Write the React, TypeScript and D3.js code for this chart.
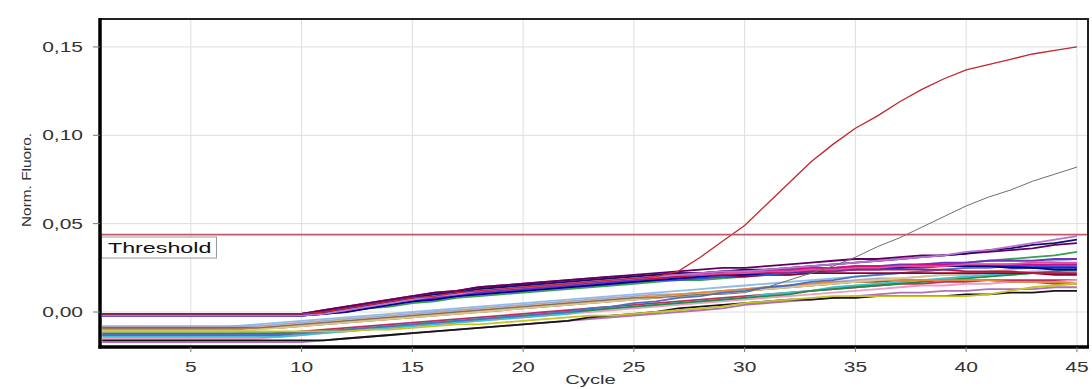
import React from "react";
import * as d3 from "d3";

// ---- data ----
const cycles = [1,2,3,4,5,6,7,8,9,10,11,12,13,14,15,16,17,18,19,20,21,22,23,24,25,26,27,28,29,30,31,32,33,34,35,36,37,38,39,40,41,42,43,44,45];
const xTicks = [5, 10, 15, 20, 25, 30, 35, 40, 45];
const yTicks = [0, 0.05, 0.1, 0.15];
const yTickLabels = ["0,00", "0,05", "0,10", "0,15"];
const thresholdValue = 0.0438;

// upper group (baseline ~0)
const wellA1 = [-0.001,-0.001,-0.001,-0.001,-0.001,-0.001,-0.001,-0.001,-0.001,-0.001,0.000,0.002,0.004,0.006,0.008,0.010,0.011,0.013,0.014,0.015,0.016,0.017,0.018,0.019,0.020,0.021,0.022,0.022,0.023,0.024,0.024,0.025,0.026,0.027,0.028,0.029,0.030,0.031,0.032,0.033,0.035,0.036,0.038,0.039,0.041];
const wellA2 = [-0.002,-0.002,-0.002,-0.002,-0.002,-0.002,-0.002,-0.002,-0.002,-0.002,-0.001,0.001,0.003,0.005,0.007,0.009,0.010,0.012,0.013,0.014,0.015,0.016,0.017,0.018,0.019,0.020,0.021,0.022,0.023,0.023,0.024,0.025,0.026,0.027,0.028,0.029,0.030,0.031,0.032,0.034,0.035,0.037,0.039,0.041,0.043];
const wellA3 = [-0.001,-0.001,-0.001,-0.001,-0.001,-0.001,-0.001,-0.001,-0.001,-0.001,0.001,0.003,0.005,0.007,0.009,0.011,0.012,0.014,0.015,0.016,0.017,0.018,0.019,0.020,0.021,0.022,0.023,0.024,0.025,0.025,0.026,0.027,0.028,0.029,0.030,0.030,0.031,0.032,0.032,0.033,0.034,0.035,0.036,0.038,0.039];
const wellA4 = [-0.001,-0.001,-0.001,-0.001,-0.001,-0.001,-0.001,-0.001,-0.001,-0.001,0.001,0.003,0.005,0.007,0.009,0.011,0.012,0.014,0.015,0.016,0.017,0.018,0.019,0.020,0.020,0.021,0.022,0.022,0.023,0.023,0.024,0.024,0.025,0.025,0.026,0.026,0.026,0.027,0.027,0.027,0.027,0.027,0.027,0.027,0.027];
const wellA5 = [-0.002,-0.002,-0.002,-0.002,-0.002,-0.002,-0.002,-0.002,-0.002,-0.002,-0.001,0.001,0.003,0.005,0.006,0.008,0.009,0.011,0.012,0.013,0.014,0.015,0.016,0.017,0.018,0.019,0.020,0.021,0.021,0.022,0.023,0.023,0.024,0.024,0.025,0.025,0.025,0.026,0.026,0.026,0.026,0.026,0.025,0.025,0.025];
const wellA6 = [-0.001,-0.001,-0.001,-0.001,-0.001,-0.001,-0.001,-0.001,-0.001,-0.001,0.000,0.002,0.004,0.006,0.008,0.010,0.011,0.012,0.013,0.014,0.015,0.016,0.017,0.018,0.019,0.019,0.020,0.021,0.021,0.022,0.022,0.023,0.023,0.024,0.024,0.024,0.024,0.024,0.024,0.023,0.023,0.023,0.022,0.022,0.022];
const wellA7 = [-0.002,-0.002,-0.002,-0.002,-0.002,-0.002,-0.002,-0.002,-0.002,-0.002,-0.001,0.000,0.002,0.004,0.006,0.007,0.009,0.010,0.011,0.012,0.013,0.014,0.015,0.016,0.017,0.018,0.019,0.020,0.021,0.021,0.022,0.023,0.023,0.024,0.025,0.025,0.026,0.026,0.026,0.026,0.026,0.025,0.025,0.024,0.024];
const wellA8 = [-0.001,-0.001,-0.001,-0.001,-0.001,-0.001,-0.001,-0.001,-0.001,-0.001,0.000,0.001,0.003,0.005,0.007,0.008,0.010,0.011,0.012,0.013,0.014,0.015,0.016,0.017,0.018,0.019,0.020,0.021,0.022,0.022,0.023,0.024,0.024,0.025,0.026,0.026,0.027,0.027,0.028,0.028,0.029,0.029,0.029,0.030,0.030];
const wellA9 = [-0.001,-0.001,-0.001,-0.001,-0.001,-0.001,-0.001,-0.001,-0.001,-0.001,0.000,0.002,0.003,0.005,0.007,0.008,0.009,0.011,0.012,0.013,0.014,0.015,0.016,0.017,0.017,0.018,0.019,0.019,0.020,0.020,0.021,0.021,0.022,0.022,0.022,0.022,0.022,0.022,0.022,0.022,0.022,0.022,0.022,0.021,0.021];
const wellA10 = [-0.001,-0.001,-0.001,-0.001,-0.001,-0.001,-0.001,-0.001,-0.001,-0.001,0.001,0.003,0.005,0.007,0.009,0.010,0.012,0.013,0.014,0.015,0.016,0.017,0.018,0.019,0.020,0.020,0.021,0.021,0.022,0.022,0.023,0.023,0.024,0.024,0.025,0.025,0.026,0.026,0.026,0.027,0.027,0.027,0.028,0.028,0.028];
const wellA11 = [-0.002,-0.002,-0.002,-0.002,-0.002,-0.002,-0.002,-0.002,-0.002,-0.002,-0.001,0.001,0.002,0.004,0.006,0.007,0.009,0.010,0.011,0.012,0.013,0.014,0.015,0.016,0.017,0.018,0.018,0.019,0.020,0.021,0.021,0.022,0.023,0.023,0.024,0.024,0.025,0.025,0.026,0.026,0.026,0.026,0.026,0.026,0.026];
const wellA12 = [-0.002,-0.002,-0.002,-0.002,-0.002,-0.002,-0.002,-0.002,-0.002,-0.002,-0.001,0.000,0.002,0.003,0.005,0.006,0.008,0.009,0.010,0.011,0.012,0.013,0.014,0.015,0.016,0.017,0.018,0.018,0.019,0.020,0.021,0.021,0.022,0.023,0.024,0.025,0.025,0.026,0.027,0.028,0.029,0.030,0.031,0.032,0.034];

// lower group (baseline below 0)
const wellB1 = [-0.009,-0.009,-0.009,-0.009,-0.009,-0.009,-0.008,-0.007,-0.006,-0.005,-0.004,-0.003,-0.002,-0.001,0.000,0.001,0.002,0.003,0.004,0.005,0.006,0.007,0.008,0.009,0.010,0.011,0.012,0.013,0.014,0.015,0.016,0.017,0.018,0.019,0.020,0.021,0.022,0.023,0.024,0.025,0.026,0.027,0.028,0.029,0.030];
const wellB2 = [-0.009,-0.009,-0.009,-0.009,-0.009,-0.009,-0.009,-0.009,-0.009,-0.008,-0.007,-0.006,-0.005,-0.004,-0.003,-0.002,-0.001,0.000,0.001,0.002,0.003,0.004,0.005,0.006,0.007,0.008,0.009,0.010,0.011,0.012,0.013,0.014,0.015,0.016,0.017,0.017,0.018,0.018,0.018,0.018,0.018,0.017,0.017,0.016,0.016];
const wellB3 = [-0.011,-0.011,-0.011,-0.011,-0.011,-0.011,-0.011,-0.011,-0.011,-0.011,-0.011,-0.011,-0.010,-0.010,-0.009,-0.008,-0.007,-0.007,-0.006,-0.005,-0.004,-0.003,-0.002,-0.002,-0.001,0.000,0.001,0.002,0.003,0.005,0.006,0.007,0.008,0.009,0.009,0.009,0.009,0.009,0.009,0.009,0.010,0.012,0.014,0.015,0.016];
const wellB4 = [-0.008,-0.008,-0.008,-0.008,-0.008,-0.008,-0.008,-0.008,-0.007,-0.006,-0.005,-0.004,-0.003,-0.002,-0.001,0.000,0.001,0.002,0.003,0.004,0.005,0.006,0.007,0.008,0.009,0.010,0.010,0.011,0.012,0.013,0.014,0.015,0.016,0.017,0.018,0.019,0.019,0.020,0.021,0.021,0.022,0.022,0.023,0.023,0.024];
const wellB5 = [-0.013,-0.013,-0.013,-0.013,-0.013,-0.013,-0.013,-0.013,-0.012,-0.011,-0.010,-0.009,-0.008,-0.007,-0.006,-0.005,-0.004,-0.003,-0.002,-0.001,0.000,0.001,0.002,0.003,0.004,0.005,0.006,0.007,0.008,0.009,0.010,0.011,0.012,0.013,0.014,0.015,0.016,0.016,0.017,0.017,0.018,0.018,0.018,0.018,0.018];
const wellB6 = [-0.015,-0.015,-0.015,-0.015,-0.015,-0.015,-0.015,-0.015,-0.014,-0.013,-0.012,-0.011,-0.010,-0.009,-0.008,-0.007,-0.006,-0.005,-0.004,-0.003,-0.002,-0.001,0.000,0.001,0.002,0.003,0.004,0.005,0.006,0.007,0.008,0.009,0.010,0.011,0.012,0.013,0.014,0.015,0.015,0.016,0.016,0.017,0.017,0.017,0.018];
const wellB7 = [-0.014,-0.014,-0.014,-0.014,-0.014,-0.014,-0.014,-0.014,-0.014,-0.013,-0.012,-0.011,-0.010,-0.009,-0.008,-0.007,-0.006,-0.005,-0.004,-0.003,-0.002,-0.001,0.001,0.002,0.003,0.004,0.005,0.006,0.007,0.008,0.010,0.011,0.012,0.014,0.015,0.016,0.017,0.018,0.019,0.020,0.021,0.021,0.022,0.022,0.023];
const wellB8 = [-0.012,-0.012,-0.012,-0.012,-0.012,-0.012,-0.012,-0.012,-0.012,-0.012,-0.011,-0.010,-0.009,-0.008,-0.007,-0.006,-0.005,-0.004,-0.003,-0.002,-0.001,0.000,0.001,0.002,0.003,0.004,0.005,0.006,0.007,0.008,0.009,0.010,0.012,0.013,0.014,0.015,0.016,0.017,0.018,0.019,0.020,0.021,0.022,0.023,0.024];
const wellB9 = [-0.010,-0.010,-0.010,-0.010,-0.010,-0.010,-0.010,-0.009,-0.008,-0.007,-0.006,-0.005,-0.004,-0.003,-0.002,-0.001,0.000,0.001,0.002,0.003,0.004,0.005,0.006,0.007,0.008,0.009,0.010,0.011,0.012,0.013,0.014,0.015,0.016,0.017,0.017,0.018,0.018,0.018,0.018,0.018,0.018,0.017,0.017,0.017,0.016];
const wellB10 = [-0.017,-0.017,-0.017,-0.017,-0.017,-0.017,-0.017,-0.017,-0.017,-0.017,-0.016,-0.015,-0.014,-0.013,-0.012,-0.011,-0.010,-0.009,-0.008,-0.007,-0.006,-0.005,-0.004,-0.003,-0.002,-0.001,0.000,0.001,0.002,0.004,0.005,0.006,0.007,0.008,0.009,0.010,0.011,0.011,0.012,0.012,0.013,0.013,0.013,0.014,0.014];
const wellB11 = [-0.011,-0.011,-0.011,-0.011,-0.011,-0.011,-0.011,-0.010,-0.009,-0.008,-0.007,-0.006,-0.005,-0.004,-0.003,-0.002,-0.001,0.000,0.001,0.002,0.003,0.004,0.005,0.006,0.007,0.008,0.009,0.010,0.011,0.012,0.013,0.014,0.015,0.016,0.017,0.018,0.019,0.020,0.021,0.022,0.023,0.024,0.025,0.026,0.027];
const wellB12 = [-0.013,-0.013,-0.013,-0.013,-0.013,-0.013,-0.013,-0.013,-0.013,-0.012,-0.011,-0.010,-0.009,-0.008,-0.007,-0.006,-0.005,-0.004,-0.003,-0.002,-0.001,0.000,0.002,0.003,0.005,0.006,0.008,0.009,0.011,0.012,0.014,0.015,0.017,0.018,0.020,0.021,0.022,0.023,0.024,0.025,0.025,0.026,0.026,0.027,0.027];
const wellBlack = [-0.016,-0.016,-0.016,-0.016,-0.016,-0.016,-0.016,-0.016,-0.016,-0.016,-0.016,-0.015,-0.014,-0.013,-0.012,-0.011,-0.010,-0.009,-0.008,-0.007,-0.006,-0.005,-0.003,-0.002,-0.001,0.000,0.002,0.003,0.004,0.005,0.006,0.007,0.007,0.008,0.008,0.009,0.009,0.009,0.009,0.010,0.010,0.011,0.011,0.012,0.012];

// amplifying wells
const wellGray = [-0.009,-0.009,-0.009,-0.009,-0.009,-0.009,-0.009,-0.009,-0.008,-0.007,-0.006,-0.005,-0.004,-0.003,-0.002,-0.001,0.000,0.001,0.002,0.003,0.004,0.005,0.006,0.007,0.008,0.008,0.009,0.010,0.010,0.011,0.014,0.018,0.022,0.026,0.031,0.037,0.042,0.048,0.054,0.060,0.065,0.069,0.074,0.078,0.082];
const wellRed = [-0.001,-0.001,-0.001,-0.001,-0.001,-0.001,-0.001,-0.001,-0.001,-0.001,0.000,0.002,0.004,0.006,0.008,0.009,0.011,0.012,0.013,0.014,0.015,0.016,0.017,0.018,0.019,0.020,0.023,0.031,0.040,0.049,0.061,0.073,0.085,0.095,0.104,0.111,0.119,0.126,0.132,0.137,0.140,0.143,0.146,0.148,0.150];

const lowerSeries = [
  { values: wellB1, color: "#8fbde6" },
  { values: wellB2, color: "#a0582a" },
  { values: wellB4, color: "#a8a8c8" },
  { values: wellB5, color: "#c0305e" },
  { values: wellB6, color: "#f09cc0" },
  { values: wellB7, color: "#3cc0d4" },
  { values: wellB8, color: "#2a8a44" },
  { values: wellB9, color: "#e08a3a" },
  { values: wellB10, color: "#b070b8" },
  { values: wellB11, color: "#d8c890" },
  { values: wellB12, color: "#4f6fc4" },
  { values: wellBlack, color: "#141414" },
  { values: wellB3, color: "#c8c424" },
];
const upperSeries = [
  { values: wellA12, color: "#3aa050" },
  { values: wellA9, color: "#900030" },
  { values: wellA11, color: "#3050e0" },
  { values: wellA5, color: "#1020d0" },
  { values: wellA7, color: "#000090" },
  { values: wellA8, color: "#7030c0" },
  { values: wellA6, color: "#c81040" },
  { values: wellA4, color: "#d01080" },
  { values: wellA10, color: "#e050a0" },
  { values: wellA3, color: "#600060" },
  { values: wellA1, color: "#101070" },
  { values: wellA2, color: "#c070d0" },
];

const W = 1092;
const H = 389;
const left = 100, right = 1088, top = 19, bottom = 347;

export default function App() {
  const x = d3.scaleLinear().domain([0.9, 45.5]).range([left, right]);
  const y = d3.scaleLinear().domain([-0.0198, 0.1658]).range([bottom, top]);
  const line = d3
    .line<number>()
    .x((_, i) => x(cycles[i]))
    .y((v) => y(v))
    .curve(d3.curveLinear);

  const font = "'Liberation Sans', Arial, sans-serif";
  const scaledText = (
    key: string,
    tx: number,
    ty: number,
    txt: string,
    anchor: "start" | "middle" | "end",
    size: number,
    fill = "#333"
  ) => (
    <g key={key} transform={`translate(${tx},${ty}) scale(1.5,1)`}>
      <text x={0} y={0} textAnchor={anchor} fontSize={size} fontFamily={font} fill={fill}>
        {txt}
      </text>
    </g>
  );

  return (
    <svg
      width={W}
      height={H}
      style={{ position: "absolute", left: 0, top: 0, background: "#fff" }}
    >
      <defs>
        <clipPath id="plotClip">
          <rect x={left} y={top} width={right - left} height={bottom - top} />
        </clipPath>
      </defs>
      <rect x={0} y={0} width={W} height={H} fill="#fff" />

      {/* gridlines */}
      {xTicks.map((t) => (
        <line key={"gx" + t} x1={x(t)} x2={x(t)} y1={top} y2={bottom} stroke="#dedede" strokeWidth={1} />
      ))}
      {yTicks.map((t) => (
        <line key={"gy" + t} x1={left} x2={right} y1={y(t)} y2={y(t)} stroke="#dedede" strokeWidth={1} />
      ))}

      {/* curves */}
      <g clipPath="url(#plotClip)" fill="none">
        {lowerSeries.map((s, i) => (
          <path key={"lo" + i} d={line(s.values) || ""} stroke={s.color} strokeWidth={1.8} />
        ))}
        {upperSeries.map((s, i) => (
          <path key={"up" + i} d={line(s.values) || ""} stroke={s.color} strokeWidth={1.8} />
        ))}
        <path d={line(wellGray) || ""} stroke="#6e6e6e" strokeWidth={1} />
        <path d={line(wellRed) || ""} stroke="#c0282e" strokeWidth={1.3} />
        {/* threshold */}
        <line x1={left} x2={right} y1={y(thresholdValue)} y2={y(thresholdValue)} stroke="#c05a6a" strokeWidth={1.6} />
      </g>

      {/* threshold label */}
      <rect x={101.5} y={237} width={115} height={21} fill="#fff" stroke="#9a9a9a" strokeWidth={1} />
      {scaledText("thr", 108, 253, "Threshold", "start", 15.5, "#111")}

      {/* frame */}
      <rect x={left} y={top} width={right - left} height={bottom - top} fill="none" stroke="#222" strokeWidth={2} />
      <line x1={left} x2={left} y1={top - 1} y2={bottom + 1.5} stroke="#000" strokeWidth={3.5} />
      <line x1={left - 1.5} x2={right + 1} y1={bottom} y2={bottom} stroke="#000" strokeWidth={3.5} />

      {/* ticks */}
      {yTicks.map((t) => (
        <line key={"ty" + t} x1={left - 7} x2={left} y1={y(t)} y2={y(t)} stroke="#777" strokeWidth={1} />
      ))}
      {xTicks.map((t) => (
        <line key={"tx" + t} x1={x(t)} x2={x(t)} y1={bottom} y2={bottom + 5} stroke="#777" strokeWidth={1} />
      ))}

      {/* tick labels */}
      {yTicks.map((t, i) => scaledText("ly" + t, 83, y(t) + 5, yTickLabels[i], "end", 14))}
      {xTicks.map((t) => scaledText("lx" + t, x(t), 372, String(t), "middle", 14))}

      {/* axis titles */}
      <text
        transform={`translate(31,180) rotate(-90)`}
        textAnchor="middle"
        fontSize={13.5}
        fontFamily={font}
        fill="#333"
        textLength={94}
        lengthAdjust="spacingAndGlyphs"
      >
        Norm. Fluoro.
      </text>
      {scaledText("cyc", 590.5, 384, "Cycle", "middle", 13.5)}
    </svg>
  );
}
